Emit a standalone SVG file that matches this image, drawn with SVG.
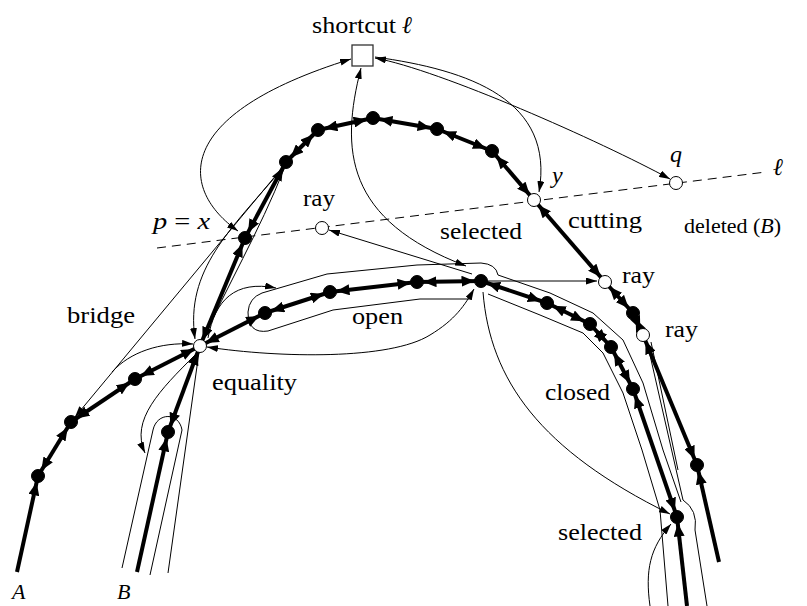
<svg xmlns="http://www.w3.org/2000/svg" width="807" height="606" viewBox="0 0 807 606">
<defs>
<marker id="ah" viewBox="0 0 20 11" refX="19.5" refY="5.5" markerWidth="20" markerHeight="11" markerUnits="userSpaceOnUse" orient="auto-start-reverse"><path d="M0,0 L13,5.5 L0,11 z" fill="#000"/></marker>
<marker id="at" viewBox="0 0 11 7" refX="11" refY="3.5" markerWidth="11" markerHeight="7" markerUnits="userSpaceOnUse" orient="auto-start-reverse"><path d="M0,0 L11,3.5 L0,7 z" fill="#000"/></marker>
<style>
.thin{fill:none;stroke:#000;stroke-width:1}
.te{marker-end:url(#at)}
.tb{marker-start:url(#at);marker-end:url(#at)}
.thick{fill:none;stroke:#000;stroke-width:4}
.b{marker-start:url(#ah);marker-end:url(#ah)}
.e{marker-end:url(#ah)}
.dash{fill:none;stroke:#000;stroke-width:1;stroke-dasharray:9,6}
.bk{fill:#000;stroke:#000;stroke-width:1}
.wh{fill:#fff;stroke:#000;stroke-width:1}
text{font-family:"Liberation Serif","Times New Roman",serif;font-size:24px;fill:#000}
.it{font-style:italic}
</style>
</defs>
<rect width="807" height="606" fill="#fff"/>
<g id="connectors">
<path class="dash" d="M157,248 L766,172"/>
<path class="thin tb" d="M238,231 C180,190 170,115 351,59"/>
<path class="thin tb" d="M361,68 C340,150 345,220 466,266"/>
<path class="thin te" d="M375,57 C470,70 555,100 539,192"/>
<path class="thin tb" d="M375,58 C440,70 600,141 670,179"/>
<path class="thin te" d="M472,274 L329,230"/>
<path class="thin te" d="M488,281 L597,281"/>
<path class="thin te" d="M208,338 C215,300 235,280 276,288"/>
<path class="thin" d="M472,299 L420,299 L333,310 L268,331 Q248,334 248,312 Q249,298 262,293 L327,274 L417,265 L481,263 Q496,264 498,275 L550,293 L593,313 L623,340 L643,383 L663,450 L681,502"/>
<path class="thin" d="M488,294 L540,315 L583,333 L603,353 L623,393 L642,450 L660,510 L668,606"/>
<path class="thin" d="M647,342 L683,500 Q698,510 695,530 L707,606"/>
<path class="thin" d="M651,342 L678,470"/>
<path class="thin tb" d="M207,347 C280,358 390,360 430,335 C455,320 465,305 474,289"/>
<path class="thin te" d="M112,372 C130,352 160,342 193,344"/>
<path class="thin te" d="M282,168 L75,417"/>
<path class="thin te" d="M283,168 C230,230 185,270 195,339"/>
<path class="thin" d="M284,169 C260,230 225,290 203,340 M199,352 L168,573"/>
<path class="thin te" d="M195,355 C160,390 130,420 145,453"/>
<path class="thin" d="M122,568 L153,430 C157,412 179,412 182,430 L150,575"/>
<path class="thin te" d="M483,292 C490,380 540,450 670,514"/>
<path class="thin te" d="M650,606 C645,570 650,548 671,524"/>
<path class="thick e" d="M17,572 L38,476"/>
<path class="thick b" d="M38,476 L71,422"/>
<path class="thick b" d="M71,422 L135,379"/>
<path class="thick b" d="M135,379 L200,346"/>
<path class="thick b" d="M200,346 L245,238"/>
<path class="thick b" d="M245,238 L286,162"/>
<path class="thick b" d="M286,162 L318,130"/>
<path class="thick b" d="M318,130 L373,118"/>
<path class="thick b" d="M373,118 L437,129"/>
<path class="thick b" d="M437,129 L492,151"/>
<path class="thick b" d="M492,151 L534,200"/>
<path class="thick b" d="M534,200 L605,282"/>
<path class="thick b" d="M605,282 L633,313"/>
<path class="thick b" d="M633,313 L643,335"/>
<path class="thick b" d="M643,335 L697,465"/>
<path class="thick e" d="M719,562 L697,465"/>
<path class="thick e" d="M137,572 L168,432"/>
<path class="thick b" d="M168,432 L200,346"/>
<path class="thick b" d="M200,346 L265,313"/>
<path class="thick b" d="M265,313 L330,292"/>
<path class="thick b" d="M330,292 L417,282"/>
<path class="thick b" d="M417,282 L481,281"/>
<path class="thick b" d="M481,281 L547,303"/>
<path class="thick b" d="M547,303 L590,324"/>
<path class="thick b" d="M590,324 L611,347"/>
<path class="thick b" d="M611,347 L633,389"/>
<path class="thick b" d="M633,389 L677,517"/>
<path class="thick e" d="M687,606 L677,517"/>
</g>
<g id="shortcut"><rect x="352" y="45" width="21" height="21" fill="#fff" stroke="#333" stroke-width="1.3"/><text x="312" y="33" textLength="84" lengthAdjust="spacingAndGlyphs">shortcut</text><text x="402" y="33" class="it">ℓ</text></g>
<g id="n-A1"><circle cx="38" cy="476" r="6.5" class="bk"/></g>
<g id="n-A2"><circle cx="71" cy="422" r="6.5" class="bk"/></g>
<g id="n-A3"><circle cx="135" cy="379" r="6.5" class="bk"/></g>
<g id="n-W"><circle cx="200" cy="346" r="6.5" class="wh"/><text x="212" y="390" textLength="85" lengthAdjust="spacingAndGlyphs">equality</text></g>
<g id="n-P"><circle cx="245" cy="238" r="6.5" class="bk"/><text x="153" y="229" textLength="57" lengthAdjust="spacingAndGlyphs"><tspan class="it">p</tspan> = <tspan class="it">x</tspan></text></g>
<g id="n-A5"><circle cx="286" cy="162" r="6.5" class="bk"/></g>
<g id="n-A6"><circle cx="318" cy="130" r="6.5" class="bk"/></g>
<g id="n-A7"><circle cx="373" cy="118" r="6.5" class="bk"/></g>
<g id="n-A8"><circle cx="437" cy="129" r="6.5" class="bk"/></g>
<g id="n-A9"><circle cx="492" cy="151" r="6.5" class="bk"/></g>
<g id="n-Y"><circle cx="534" cy="200" r="6.5" class="wh"/><text x="552" y="183" class="it">y</text></g>
<g id="n-R1"><circle cx="605" cy="282" r="6.5" class="wh"/><text x="622" y="283" textLength="33" lengthAdjust="spacingAndGlyphs">ray</text></g>
<g id="n-A10"><circle cx="633" cy="313" r="6.5" class="bk"/></g>
<g id="n-R2"><circle cx="643" cy="335" r="6.5" class="wh"/><text x="665" y="337" textLength="33" lengthAdjust="spacingAndGlyphs">ray</text></g>
<g id="n-A11"><circle cx="697" cy="465" r="6.5" class="bk"/></g>
<g id="n-ray"><circle cx="322" cy="228" r="6.5" class="wh"/><text x="303" y="206" textLength="32" lengthAdjust="spacingAndGlyphs">ray</text></g>
<g id="n-q"><circle cx="676" cy="183" r="6.5" class="wh"/><text x="670" y="162" class="it">q</text></g>
<g id="n-B1"><circle cx="168" cy="432" r="6.5" class="bk"/></g>
<g id="n-B2"><circle cx="265" cy="313" r="6.5" class="bk"/></g>
<g id="n-B3"><circle cx="330" cy="292" r="6.5" class="bk"/></g>
<g id="n-B4"><circle cx="417" cy="282" r="6.5" class="bk"/></g>
<g id="n-S"><circle cx="481" cy="281" r="6.5" class="bk"/><text x="440" y="239" textLength="82" lengthAdjust="spacingAndGlyphs">selected</text></g>
<g id="n-B5"><circle cx="547" cy="303" r="6.5" class="bk"/></g>
<g id="n-B6"><circle cx="590" cy="324" r="6.5" class="bk"/></g>
<g id="n-B7"><circle cx="611" cy="347" r="6.5" class="bk"/></g>
<g id="n-B8"><circle cx="633" cy="389" r="6.5" class="bk"/></g>
<g id="n-S2"><circle cx="677" cy="517" r="6.5" class="bk"/><text x="558" y="540" textLength="84" lengthAdjust="spacingAndGlyphs">selected</text></g>
<g id="labels">
<text x="773" y="175" class="it">ℓ</text>
<text x="568" y="228" textLength="74" lengthAdjust="spacingAndGlyphs">cutting</text>
<text x="684" y="233" style="font-size:22px">deleted (<tspan class="it">B</tspan>)</text>
<text x="67" y="323" textLength="68" lengthAdjust="spacingAndGlyphs">bridge</text>
<text x="352" y="324" textLength="51" lengthAdjust="spacingAndGlyphs">open</text>
<text x="545" y="400" textLength="65" lengthAdjust="spacingAndGlyphs">closed</text>
<text x="12" y="599" class="it" style="font-size:22px">A</text>
<text x="117" y="599" class="it" style="font-size:22px">B</text>
</g>
</svg>
